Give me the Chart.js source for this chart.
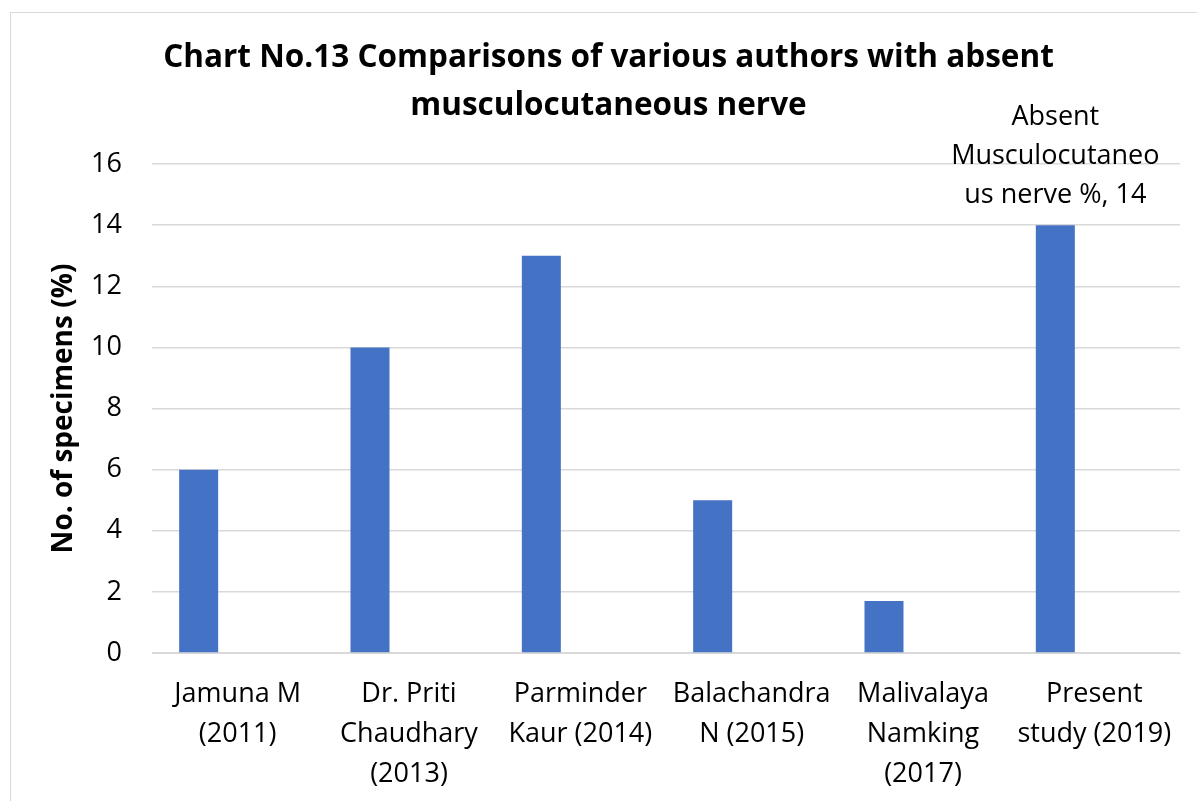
<!DOCTYPE html>
<html>
<head>
<meta charset="utf-8">
<script src="https://cdn.jsdelivr.net/npm/chart.js@4"></script>
<style>
  html, body { margin: 0; padding: 0; background: #fff; overflow: hidden; }
  #frame { position: absolute; left: 10px; top: 12px; width: 1300px; height: 900px; border: 1px solid #d9d9d9; }
  #wrap { position: absolute; left: 0; top: 0; width: 1197px; height: 801px; }
</style>
</head>
<body>
<div id="frame"></div>
<div id="wrap"><canvas id="chart_one"></canvas></div>
<script>
var authors = [
  ["Jamuna M", "(2011)"],
  ["Dr. Priti", "Chaudhary", "(2013)"],
  ["Parminder", "Kaur (2014)"],
  ["Balachandra", "N (2015)"],
  ["Malivalaya", "Namking", "(2017)"],
  ["Present", "study (2019)"]
];
var absentValues = [6, 10, 13, 5, 1.7, 14];
var emptyValues = [null, null, null, null, null, null];
var yTicks = [0, 2, 4, 6, 8, 10, 12, 14, 16];

var fontFamily = "'Open Sans', sans-serif";

// draws the single data label above the last bar, wrapped like the original
var lastBarLabel = {
  id: 'lastBarLabel',
  afterDatasetsDraw: function(chart) {
    var meta = chart.getDatasetMeta(0);
    var idx = absentValues.length - 1;
    var bar = meta.data[idx];
    var lines = ["Absent", "Musculocutaneo", "us nerve %, " + absentValues[idx]];
    var ctx = chart.ctx;
    ctx.save();
    ctx.font = "27px " + fontFamily;
    ctx.fillStyle = '#000';
    ctx.textAlign = 'center';
    ctx.textBaseline = 'middle';
    for (var i = 0; i < lines.length; i++) {
      ctx.fillText(lines[i], bar.x, bar.y - 30 - (lines.length - 1 - i) * 39);
    }
    ctx.restore();
  }
};

var dataFirst = {
  label: "Absent Musculocutaneous nerve %",
  data: absentValues,
  backgroundColor: '#4472C4',
  categoryPercentage: 0.683,
  barPercentage: 1
};
var dataSecond = {
  label: "Series 2",
  data: emptyValues,
  backgroundColor: '#ED7D31',
  categoryPercentage: 0.683,
  barPercentage: 1
};
var dataThird = {
  label: "Series 3",
  data: emptyValues,
  backgroundColor: '#A5A5A5',
  categoryPercentage: 0.683,
  barPercentage: 1
};

var chartOptions = {
  responsive: true,
  maintainAspectRatio: false,
  animation: false,
  layout: { padding: { left: 37, right: 17, top: 0, bottom: 0 } },
  plugins: {
    legend: { display: false },
    tooltip: { enabled: false },
    title: {
      display: true,
      text: ["Chart No.13 Comparisons of various authors with absent", "musculocutaneous nerve"],
      color: '#000',
      font: { family: fontFamily, size: 31.5, weight: 'bold', lineHeight: '48px' },
      padding: { top: 34, bottom: 34 }
    }
  },
  scales: {
    x: {
      afterFit: function(scale) { scale.height = 148; },
      grid: { display: false },
      border: { display: true, color: '#d9d9d9', width: 1 },
      ticks: {
        color: '#000',
        font: { family: fontFamily, size: 27, lineHeight: '40px' },
        autoSkip: false,
        maxRotation: 0,
        padding: 13
      }
    },
    y: {
      min: 0,
      max: 16,
      afterFit: function(scale) { scale.width = 115; },
      afterBuildTicks: function(scale) {
        scale.ticks = yTicks.map(function(v) { return { value: v }; });
      },
      grid: { color: '#d9d9d9', lineWidth: 1.5, drawTicks: false },
      border: { display: false },
      ticks: {
        color: '#000',
        font: { family: fontFamily, size: 27 },
        padding: 30
      },
      title: {
        display: true,
        text: "No. of specimens (%)",
        color: '#000',
        font: { family: fontFamily, size: 28, weight: 'bold' },
        padding: { top: 10, bottom: 0 }
      }
    }
  }
};

var barChart = new Chart(document.getElementById("chart_one"), {
  type: 'bar',
  data: { labels: authors, datasets: [dataFirst, dataSecond, dataThird] },
  options: chartOptions,
  plugins: [lastBarLabel]
});
</script>
</body>
</html>
